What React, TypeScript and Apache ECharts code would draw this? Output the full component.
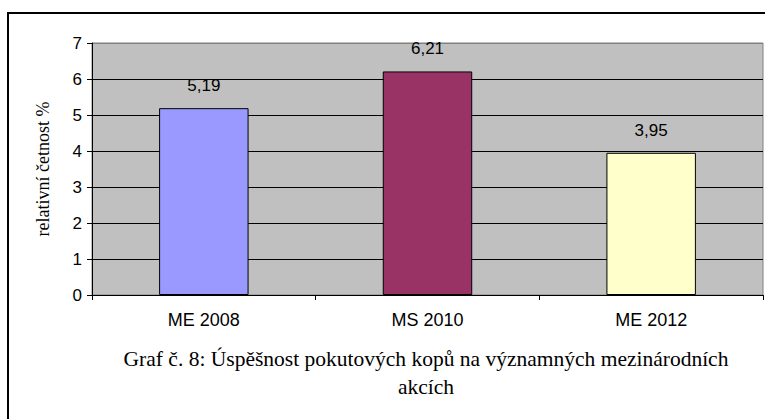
import React, { useEffect, useRef } from "react";
import * as echarts from "echarts";

const categories = ["ME 2008", "MS 2010", "ME 2012"];
const values = [5.19, 6.21, 3.95];
const barColors = ["#9999FF", "#993366", "#FFFFCC"];
const yTicks = [0, 1, 2, 3, 4, 5, 6, 7];
const yAxisTitle = "relativní četnost %";
const captionLines = [
  "Graf č. 8: Úspěšnost pokutových kopů na významných mezinárodních",
  "akcích",
];

export default function App() {
  const ref = useRef<HTMLDivElement>(null);
  useEffect(() => {
    const chart = echarts.init(ref.current!, undefined, { renderer: "svg" });
    const sans = "Liberation Sans";
    const serif = "Liberation Serif";
    chart.setOption({
      animation: false,
      backgroundColor: "#ffffff",
      grid: {
        left: 92,
        right: 2,
        top: 43,
        bottom: 124,
        show: true,
        backgroundColor: "#C0C0C0",
        borderColor: "#808080",
        borderWidth: 1,
      },
      xAxis: {
        type: "category",
        data: categories,
        axisLine: { lineStyle: { color: "#000", width: 1 } },
        axisTick: { show: true, alignWithLabel: false, length: 5, lineStyle: { color: "#000" } },
        axisLabel: { color: "#000", fontFamily: sans, fontSize: 18, margin: 16 },
        splitLine: { show: false },
      },
      yAxis: {
        type: "value",
        min: yTicks[0],
        max: yTicks[yTicks.length - 1],
        interval: 1,
        name: yAxisTitle,
        nameLocation: "middle",
        nameGap: 40,
        nameTextStyle: { color: "#000", fontFamily: serif, fontSize: 18 },
        axisLine: { show: true, lineStyle: { color: "#000", width: 1 } },
        axisTick: { show: true, length: 5, lineStyle: { color: "#000" } },
        axisLabel: { color: "#000", fontFamily: sans, fontSize: 17, margin: 10 },
        splitLine: {
          show: true,
          lineStyle: {
            color: ["#000", "#000", "#000", "#000", "#000", "#000", "#000", "#808080"],
            width: 1,
          },
        },
      },
      series: [
        {
          type: "bar",
          barWidth: "40%",
          data: values.map((v, i) => ({
            value: v,
            itemStyle: { color: barColors[i], borderColor: "#000", borderWidth: 1 },
          })),
          label: {
            show: true,
            position: "top",
            distance: 14,
            color: "#000",
            fontFamily: sans,
            fontSize: 17,
            formatter: (p: any) => String(p.value).replace(".", ","),
          },
        },
      ],
      graphic: [
        {
          type: "rect",
          shape: { x: 8, y: 13, width: 800, height: 450 },
          style: { fill: "none", stroke: "#000", lineWidth: 2 },
          silent: true,
          z: 100,
        },
        {
          type: "text",
          x: 426,
          y: 359,
          style: {
            text: captionLines[0],
            fill: "#000",
            font: `21.5px ${serif}`,
            align: "center",
            verticalAlign: "middle",
          },
        },
        {
          type: "text",
          x: 426,
          y: 387,
          style: {
            text: captionLines[1],
            fill: "#000",
            font: `21.5px ${serif}`,
            align: "center",
            verticalAlign: "middle",
          },
        },
      ],
    });
    return () => chart.dispose();
  }, []);
  return <div ref={ref} style={{ width: 765, height: 419, position: "fixed", left: 0, top: 0 }} />;
}
